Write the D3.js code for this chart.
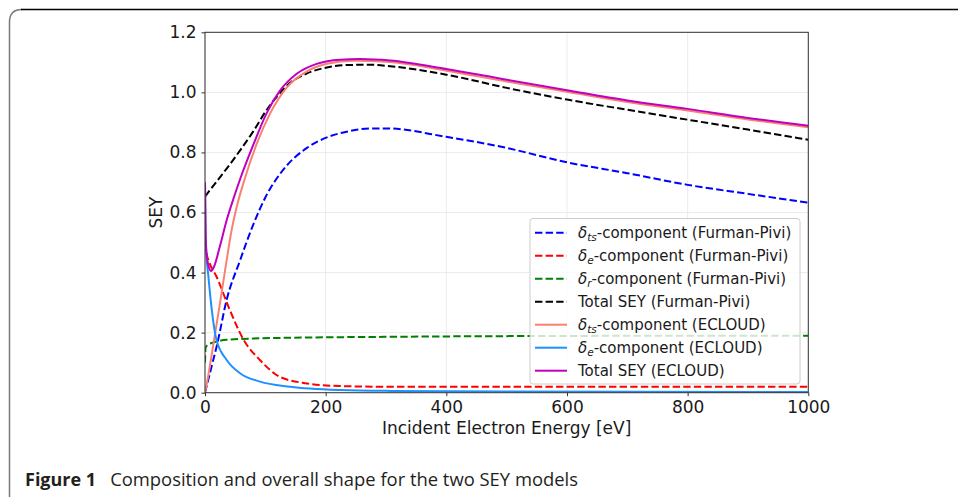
<!DOCTYPE html>
<html>
<head>
<meta charset="utf-8">
<script src="https://cdn.jsdelivr.net/npm/d3@7"></script>
<style>
  body { margin: 0; background: #fff; }
  svg { display: block; font-family: "DejaVu Sans", sans-serif; }
</style>
</head>
<body>
<svg id="chart" width="958" height="500"></svg>
<script>
// ---- data ----
const xTicks = [0, 200, 400, 600, 800, 1000];
const yTicks = [0.0, 0.2, 0.4, 0.6, 0.8, 1.0, 1.2];

// Furman-Pivi components
const fpTsE = [0, 10, 20, 36, 58, 80, 100, 135, 169, 202, 235, 275, 300, 400, 500, 600, 700, 800, 900, 1000];
const fpTsY = [0, 0.08, 0.16, 0.31, 0.44, 0.56, 0.65, 0.755, 0.815, 0.85, 0.869, 0.88, 0.88, 0.852, 0.815, 0.767, 0.731, 0.692, 0.662, 0.633];

const fpEE = [0, 2, 8, 19, 41, 64, 91, 124, 169, 224, 300, 500, 700, 1000];
const fpEY = [0.5, 0.47, 0.43, 0.387, 0.276, 0.176, 0.109, 0.053, 0.031, 0.022, 0.02, 0.02, 0.02, 0.02];

const fpRE = [0, 1, 5, 15, 36, 113, 300, 600, 1000];
const fpRY = [0.1, 0.15, 0.16, 0.168, 0.176, 0.182, 0.186, 0.189, 0.19];

const fpTotE = [0, 20, 40, 60, 80, 100, 120, 140, 169, 202, 235, 274, 307, 400, 500, 600, 700, 800, 900, 1000];
const fpTotY = [0.653, 0.705, 0.757, 0.812, 0.87, 0.935, 0.988, 1.03, 1.063, 1.083, 1.091, 1.092, 1.087, 1.059, 1.015, 0.976, 0.942, 0.909, 0.876, 0.842];

// ECLOUD components
const ecTsE = [0, 3, 11, 25, 35, 44, 54, 64, 86, 108, 135, 169, 202, 246, 307, 400, 500, 600, 700, 800, 900, 1000];
const ecTsY = [0, 0.03, 0.125, 0.30, 0.43, 0.54, 0.63, 0.70, 0.83, 0.93, 1.015, 1.07, 1.095, 1.105, 1.101, 1.072, 1.036, 1.002, 0.968, 0.94, 0.91, 0.884];

const ecEE = [0, 1, 2, 5.5, 11, 19, 36, 58, 91, 141, 224, 307, 500, 1000];
const ecEY = [0.7, 0.52, 0.47, 0.39, 0.28, 0.176, 0.109, 0.065, 0.037, 0.02, 0.009, 0.006, 0.004, 0.002];

const ecTotE = [0, 1, 2, 5, 10, 15, 25, 36, 47, 58, 80, 102, 124, 152, 185, 224, 257, 307, 400, 500, 600, 700, 800, 900, 1000];
const ecTotY = [0.7, 0.53, 0.48, 0.43, 0.405, 0.42, 0.49, 0.575, 0.645, 0.71, 0.825, 0.93, 1.005, 1.062, 1.095, 1.109, 1.111, 1.106, 1.078, 1.042, 1.007, 0.973, 0.945, 0.915, 0.889];

const series = [
  { name: "ts", model: "Furman-Pivi", E: fpTsE, Y: fpTsY, color: "#0000ff", dash: true },
  { name: "e", model: "Furman-Pivi", E: fpEE, Y: fpEY, color: "#ff0000", dash: true },
  { name: "r", model: "Furman-Pivi", E: fpRE, Y: fpRY, color: "#008000", dash: true },
  { name: null, model: "Furman-Pivi", E: fpTotE, Y: fpTotY, color: "#000000", dash: true },
  { name: "ts", model: "ECLOUD", E: ecTsE, Y: ecTsY, color: "#fa8072", dash: false },
  { name: "e", model: "ECLOUD", E: ecEE, Y: ecEY, color: "#1e90ff", dash: false },
  { name: null, model: "ECLOUD", E: ecTotE, Y: ecTotY, color: "#bf00bf", dash: false }
];

// ---- layout ----
const svg = d3.select("#chart");
const plot = { left: 205, top: 32.3, right: 808.3, bottom: 392.7 };

const x = d3.scaleLinear().domain([0, 1000]).range([plot.left, plot.right]);
const y = d3.scaleLinear().domain([0, 1.2]).range([plot.bottom, plot.top]);

//=== frame around figure ===
svg.append("path")
  .attr("d", "M9.5,497 V22 Q9.5,9.5 22,9.5")
  .attr("fill", "none").attr("stroke", "#7a7a7a").attr("stroke-width", 1.5);
svg.append("line")
  .attr("x1", 21).attr("x2", 958).attr("y1", 9.5).attr("y2", 9.5)
  .attr("stroke", "#000").attr("stroke-width", 1.3);

//=== grid ===
const grid = svg.append("g").attr("stroke", "#e6e6e6").attr("stroke-width", 0.8);
xTicks.forEach((t) => {
  grid.append("line").attr("x1", x(t)).attr("x2", x(t)).attr("y1", plot.top).attr("y2", plot.bottom);
});
yTicks.forEach((t) => {
  grid.append("line").attr("x1", plot.left).attr("x2", plot.right).attr("y1", y(t)).attr("y2", y(t));
});

//=== lines ===
svg.append("clipPath").attr("id", "clip")
  .append("rect")
  .attr("x", plot.left).attr("y", plot.top)
  .attr("width", plot.right - plot.left).attr("height", plot.bottom - plot.top);

const line = d3.line()
  .x((d) => x(d[0]))
  .y((d) => y(d[1]))
  .curve(d3.curveMonotoneX);

const lines = svg.append("g").attr("clip-path", "url(#clip)");
series.forEach((s) => {
  lines.append("path")
    .datum(s.E.map((e, i) => [e, s.Y[i]]))
    .attr("fill", "none")
    .attr("stroke", s.color)
    .attr("stroke-width", 2)
    .attr("stroke-dasharray", s.dash ? "7.4,3.2" : null)
    .attr("d", line);
});

//=== axes ===
const fmtY = d3.format(".1f");
const xAxis = svg.append("g")
  .attr("transform", `translate(0,${plot.bottom})`)
  .call(d3.axisBottom(x).tickValues(xTicks).tickSize(3.5).tickPadding(5).tickFormat(d3.format("d")));
const yAxis = svg.append("g")
  .attr("transform", `translate(${plot.left},0)`)
  .call(d3.axisLeft(y).tickValues(yTicks).tickSize(3.5).tickPadding(5).tickFormat(fmtY));

[xAxis, yAxis].forEach((a) => {
  a.select(".domain").remove();
  a.selectAll("line").attr("stroke", "#333");
  a.selectAll("text")
    .attr("font-family", "DejaVu Sans")
    .attr("font-size", 17)
    .attr("fill", "#1a1a1a");
});

// spines
svg.append("rect")
  .attr("x", plot.left).attr("y", plot.top)
  .attr("width", plot.right - plot.left).attr("height", plot.bottom - plot.top)
  .attr("fill", "none").attr("stroke", "#333").attr("stroke-width", 1);

//=== axis labels ===
svg.append("text")
  .attr("x", (plot.left + plot.right) / 2).attr("y", 434)
  .attr("text-anchor", "middle")
  .attr("font-size", 17).attr("fill", "#1a1a1a")
  .text("Incident Electron Energy [eV]");

svg.append("text")
  .attr("transform", `translate(162,${(plot.top + plot.bottom) / 2}) rotate(-90)`)
  .attr("text-anchor", "middle")
  .attr("font-size", 17).attr("fill", "#1a1a1a")
  .text("SEY");

//=== legend ===
const legend = svg.append("g");
legend.append("rect")
  .attr("x", 530).attr("y", 218.5).attr("width", 270).attr("height", 165.5)
  .attr("rx", 3)
  .attr("fill", "#fff").attr("fill-opacity", 0.8)
  .attr("stroke", "#cccccc").attr("stroke-width", 1);

series.forEach((s, i) => {
  const cy = 232.7 + i * 23;
  legend.append("line")
    .attr("x1", 535).attr("x2", 567).attr("y1", cy).attr("y2", cy)
    .attr("stroke", s.color).attr("stroke-width", 2)
    .attr("stroke-dasharray", s.dash ? "7.4,3.2" : null);
  const t = legend.append("text")
    .attr("x", 578).attr("y", cy + 5.3)
    .attr("font-size", 15).attr("fill", "#1a1a1a");
  if (s.name) {
    t.append("tspan").attr("font-style", "italic").text("\u03b4");
    t.append("tspan").attr("font-style", "italic").attr("font-size", 10.5)
      .attr("dy", 3).text(s.name);
    t.append("tspan").attr("dy", -3).text(`-component (${s.model})`);
  } else {
    t.append("tspan").text(`Total SEY (${s.model})`);
  }
});

//=== caption ===
const cap = svg.append("text")
  .attr("x", 25).attr("y", 486)
  .attr("font-family", "Open Sans")
  .attr("font-size", 18).attr("fill", "#231f20");
cap.append("tspan").attr("font-weight", "bold").text("Figure 1");
cap.append("tspan").attr("dx", 14).attr("font-size", 18.4)
  .text("Composition and overall shape for the two SEY models");
</script>
</body>
</html>
